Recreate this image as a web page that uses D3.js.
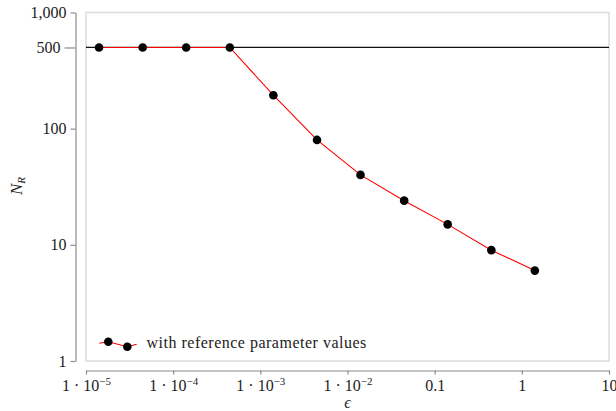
<!DOCTYPE html>
<meta charset="utf-8">
<style>
  body { margin: 0; background: #fff; }
  svg { display: block; }
  .axis path, .axis line { stroke: #8c8c8c; stroke-width: 1.2px; }
</style>
<script src="https://d3js.org/d3.v7.min.js"></script>
<div id="chart"></div>
<script>
  // epsilon values (half-decade steps) and resulting N_R
  var epsilon = [1.41e-5, 4.47e-5, 1.41e-4, 4.47e-4, 1.41e-3, 4.47e-3, 1.41e-2, 4.47e-2, 0.141, 0.447, 1.41];
  var nR = [500, 500, 500, 500, 194, 80, 40, 24, 15, 9, 6];
  var limit = 500;

  var xTicks = [1e-5, 1e-4, 1e-3, 1e-2, 0.1, 1, 10];
  var yTicks = [1, 10, 100, 500, 1000];
  var legendLabel = "with reference parameter values";

  var width = 616, height = 411;
  var box = { left: 86, right: 609, top: 12.5, bottom: 361 };
  var serif = "'Liberation Serif', 'Times New Roman', serif";

  var svg = d3.select("#chart").append("svg")
    .attr("width", width)
    .attr("height", height);

  var x = d3.scaleLog().domain([1e-5, 10]).range([box.left, box.right]);
  var y = d3.scaleLog().domain([1, 1000]).range([box.bottom, box.top]);

  // light frame round the plot area
  svg.append("rect")
    .attr("x", box.left).attr("y", box.top)
    .attr("width", box.right - box.left).attr("height", box.bottom - box.top)
    .attr("fill", "none").attr("stroke", "#dcdcdc").attr("stroke-width", 1.5);

  // y axis
  var yAxis = svg.append("g")
    .attr("class", "axis")
    .attr("transform", "translate(75.5,0)")
    .call(d3.axisLeft(y).tickValues(yTicks).tickSize(5).tickSizeOuter(0).tickPadding(4)
      .tickFormat(d3.format(",")));
  yAxis.selectAll(".tick").filter(function(d) { return d === limit; })
    .each(function() {
      d3.select(this).select("line").attr("x2", -11);
      d3.select(this).select("text").attr("x", -15);
    });

  // x axis
  function tickLabel(d) {
    if (d >= 0.1) return [[d3.format("")(d), false]];
    return [["1 \u00b7 10", false], ["\u2212" + (-Math.round(Math.log10(d))), true]];
  }
  var xAxis = svg.append("g")
    .attr("class", "axis")
    .attr("transform", "translate(0,370.5)")
    .call(d3.axisBottom(x).tickValues(xTicks).tickSize(4).tickSizeOuter(0).tickPadding(4)
      .tickFormat(""));
  xAxis.selectAll(".tick text").each(function(d) {
    var t = d3.select(this).text(null).attr("dy", "0.76em");
    tickLabel(d).forEach(function(p) {
      var s = t.append("tspan").text(p[0]);
      if (p[1]) s.style("font-size", "11px").attr("baseline-shift", "6px");
    });
  });

  // cap line at N_R = 500
  svg.append("line")
    .attr("x1", box.left).attr("x2", box.right)
    .attr("y1", y(limit)).attr("y2", y(limit))
    .attr("stroke", "#111").attr("stroke-width", 1.2);

  var data = epsilon.map(function(e, i) { return { e: e, n: nR[i] }; });

  var line = d3.line()
    .x(function(d) { return x(d.e); })
    .y(function(d) { return y(d.n); });

  svg.append("path")
    .datum(data)
    .attr("d", line)
    .attr("fill", "none")
    .attr("stroke", "#ff0000")
    .attr("stroke-width", 1.1);

  svg.selectAll(".dot")
    .data(data)
    .enter().append("circle")
      .attr("class", "dot")
      .attr("cx", function(d) { return x(d.e); })
      .attr("cy", function(d) { return y(d.n); })
      .attr("r", 4.3)
      .attr("fill", "#000");

  // legend
  var leg = svg.append("g");
  var legPts = [[99.3, 343.3], [108.3, 341.7], [127.3, 346.7], [136.7, 344.3]];
  leg.append("path")
    .attr("d", d3.line()(legPts))
    .attr("fill", "none").attr("stroke", "#ff0000").attr("stroke-width", 1.1);
  leg.selectAll("circle")
    .data([legPts[1], legPts[2]])
    .enter().append("circle")
      .attr("cx", function(d) { return d[0]; })
      .attr("cy", function(d) { return d[1]; })
      .attr("r", 4.3).attr("fill", "#000");
  leg.append("text")
    .attr("x", 146.5).attr("y", 347.5)
    .style("font-size", "16px")
    .style("letter-spacing", "0.5px")
    .text(legendLabel);

  // axis titles
  svg.append("text")
    .attr("x", 347.5).attr("y", 408)
    .attr("text-anchor", "middle")
    .style("font-size", "16px")
    .attr("font-style", "italic")
    .text("\u03f5");

  var yt = svg.append("text")
    .attr("transform", "translate(22,186) rotate(-90)")
    .attr("text-anchor", "middle")
    .style("font-size", "17px")
    .attr("font-style", "italic");
  yt.append("tspan").text("N");
  yt.append("tspan").style("font-size", "11px").attr("dy", "3").text("R");

  // one serif face for every label
  svg.selectAll("g").attr("font-family", null).attr("font-size", null);
  svg.selectAll(".axis .tick text").style("font-size", "16px");
  svg.selectAll("text").style("font-family", serif).style("fill", "#222");
</script>
